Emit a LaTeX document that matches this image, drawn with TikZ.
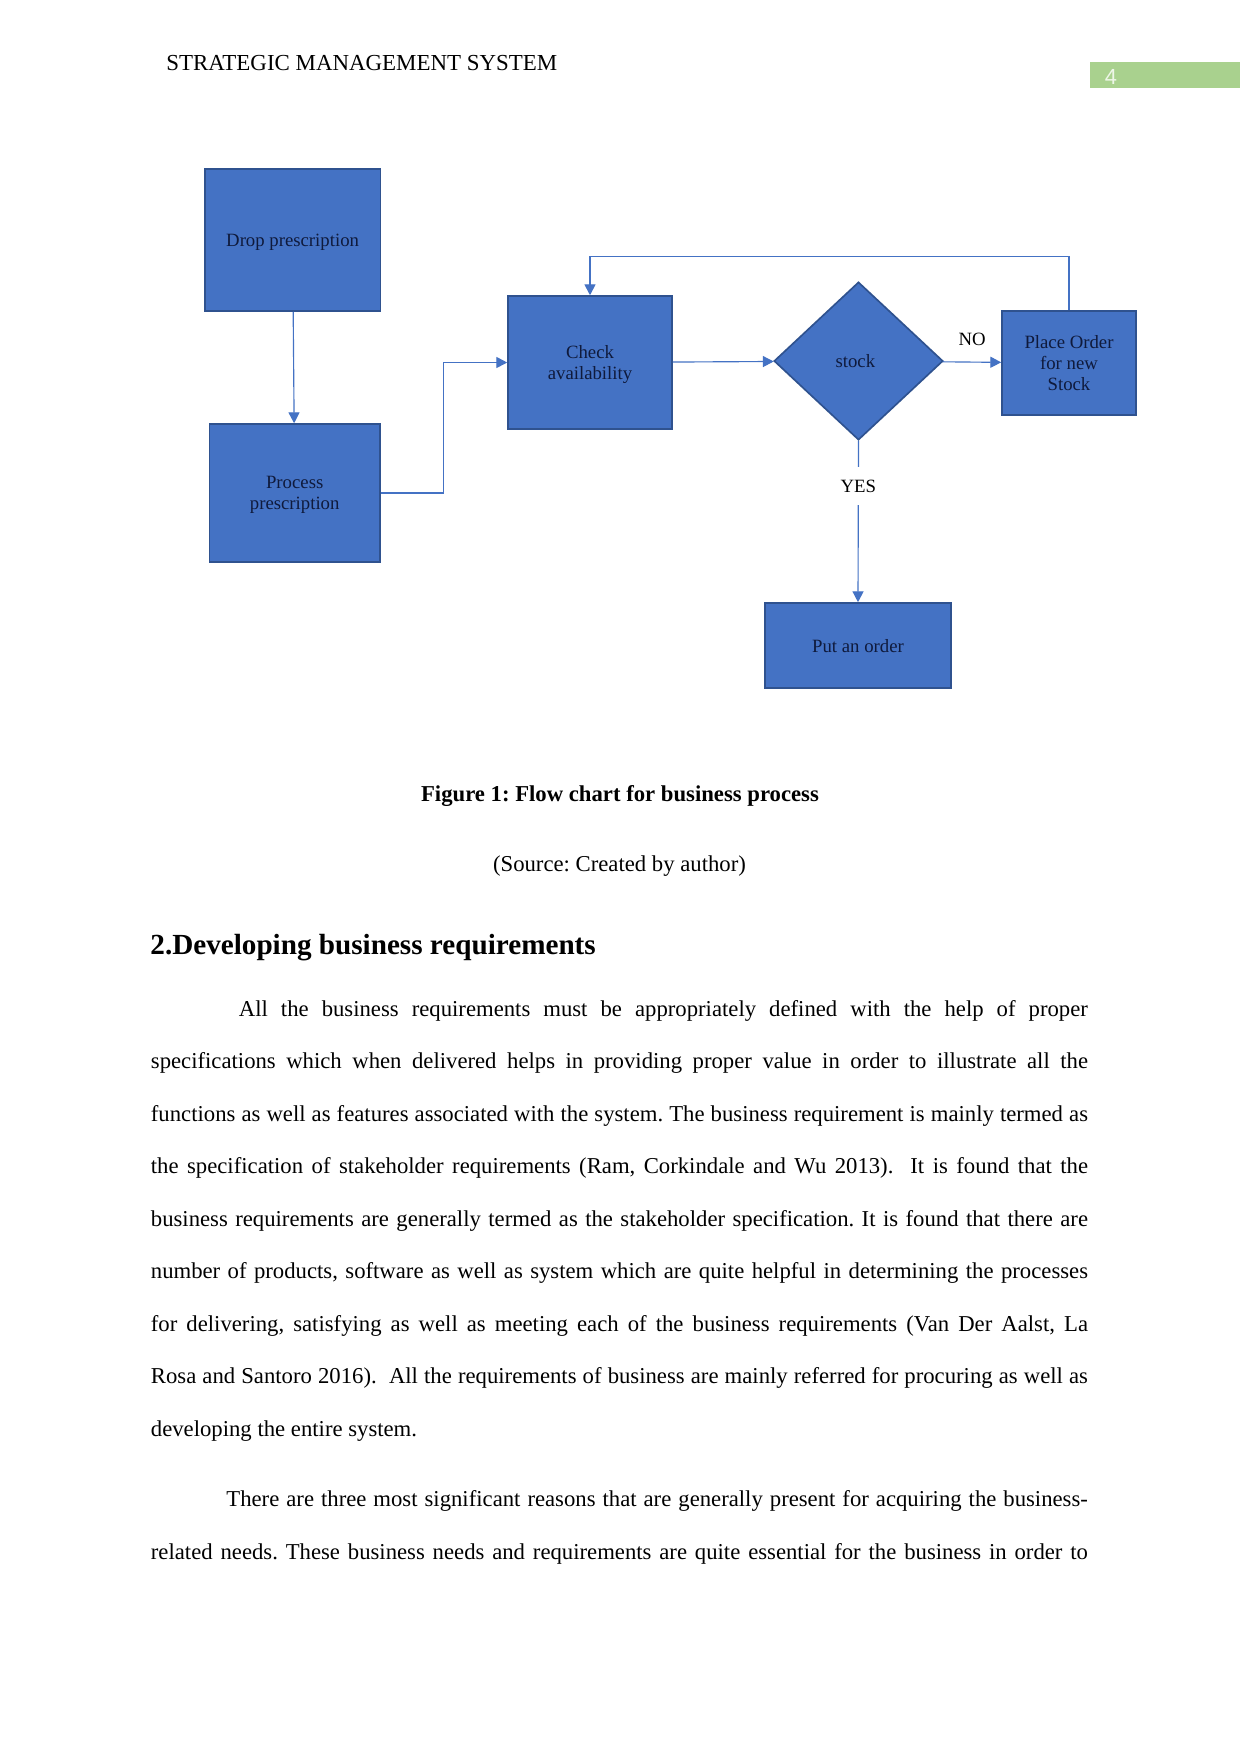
\documentclass[tikz,border=0pt]{standalone}
\usepackage{fontspec}
\setmainfont{Liberation Serif}
\newfontfamily\pgnumfont{Liberation Sans}
\usetikzlibrary{shapes.geometric,arrows.meta,calc}
\definecolor{boxfill}{HTML}{4472C4}
\definecolor{boxline}{HTML}{2F528F}
\definecolor{conn}{HTML}{4472C4}
\definecolor{boxtext}{HTML}{0F1A3C}
\definecolor{pggreen}{HTML}{A9D18E}
\definecolor{pgtext}{HTML}{EEF6E8}
\frenchspacing
\begin{document}
\begin{tikzpicture}[x=0.48pt,y=-0.48pt,
  procbox/.style={rectangle, draw=boxline, line width=0.8pt, fill=boxfill, text=boxtext,
    font=\fontsize{9pt}{10.2pt}\selectfont, align=center, inner sep=0pt, text depth=0pt},
  decbox/.style={diamond, draw=boxline, line width=0.8pt, fill=boxfill, text=boxtext,
    font=\fontsize{9pt}{10.2pt}\selectfont, inner sep=0pt},
  arr/.style={draw=conn, line width=0.55pt, -{Triangle[width=5.3pt,length=5.2pt]}},
  lbl/.style={font=\fontsize{9pt}{10pt}\selectfont, text=black, inner sep=0pt},
  bodyline/.style={anchor=base west, inner sep=0pt, font=\fontsize{10.9pt}{13pt}\selectfont},
  plaintext/.style={inner sep=0pt, font=\fontsize{10.9pt}{13pt}\selectfont}
]
\useasboundingbox[fill=white] (0,0) rectangle (1241,1754);

% header
\node[inner sep=0pt, anchor=base west, font=\fontsize{11pt}{13pt}\selectfont] (hdr) at (166,70.6) {STRATEGIC MANAGEMENT SYSTEM};
\node[fill=pggreen, minimum width=72pt, minimum height=12.2pt, inner sep=0pt] (pgbox) at (1165,75) {};
\node[inner sep=0pt, text=pgtext, font=\pgnumfont\fontsize{10.5pt}{12pt}\selectfont] (pgnum) at (1111,76.5) {4};

% flowchart nodes
\node[procbox, minimum width=84.3pt, minimum height=68.2pt] (drop) at (292.6,240) {Drop prescription};
\node[procbox, minimum width=81.8pt, minimum height=66.2pt] (proc) at (294.7,493) {Process\\prescription};
\node[procbox, minimum width=78.7pt, minimum height=63.8pt] (check) at (590,362.5) {Check\\availability};
\node[decbox, minimum width=81.1pt, minimum height=75.8pt] (stock) at (858.5,361) {stock\hspace*{3pt}};
\node[procbox, minimum width=64.3pt, minimum height=49.9pt] (place) at (1069,363) {Place Order\\for new\\Stock};
\node[procbox, minimum width=89.3pt, minimum height=40.8pt] (put) at (858,645.5) {Put an order};

% connectors
\draw[arr] (drop) -- (proc);
\draw[arr] (proc.east) -- ++(63,0) |- (check.west);
\draw[arr] (check) -- (stock);
\draw[arr] (stock) -- node[lbl, yshift=11pt] {NO} (place);
\draw[arr] (place.north) -- ++(0,-54) -| (check.north);
\draw[arr] (stock.south) -- node[lbl, pos=0.28, fill=white, inner xsep=3pt, inner ysep=6.2pt] {YES} (put.north);

% caption
\node[plaintext, anchor=base, font=\bfseries\fontsize{10.9pt}{13pt}\selectfont] (cap) at (620,801.7) {Figure 1: Flow chart for business process};
\node[plaintext, anchor=base] (src) at (619.5,871) {(Source: Created by author)};

% heading
\node[inner sep=0pt, anchor=base west, font=\bfseries\fontsize{14pt}{16pt}\selectfont] (head) at (150,954.3) {2.Developing business requirements};

% paragraph 1
\node[bodyline] (p1l1) at (238.5,1016) {\makebox[407.5pt][s]{All the business requirements must be appropriately defined with the help of proper}};
\node[bodyline] (p1l2) at (150.5,1068.5) {\makebox[449.8pt][s]{specifications which when delivered helps in providing proper value in order to illustrate all the}};
\node[bodyline] (p1l3) at (150.5,1121) {\makebox[449.8pt][s]{functions as well as features associated with the system. The business requirement is mainly termed as}};
\node[bodyline] (p1l4) at (150.5,1173.5) {\makebox[449.8pt][s]{the specification of stakeholder requirements (Ram, Corkindale and Wu 2013).\ \ It is found that the}};
\node[bodyline] (p1l5) at (150.5,1226) {\makebox[449.8pt][s]{business requirements are generally termed as the stakeholder specification. It is found that there are}};
\node[bodyline] (p1l6) at (150.5,1278.5) {\makebox[449.8pt][s]{number of products, software as well as system which are quite helpful in determining the processes}};
\node[bodyline] (p1l7) at (150.5,1331) {\makebox[449.8pt][s]{for delivering, satisfying as well as meeting each of the business requirements (Van Der Aalst, La}};
\node[bodyline] (p1l8) at (150.5,1383.5) {\makebox[449.8pt][s]{Rosa and Santoro 2016).\ \ All the requirements of business are mainly referred for procuring as well as}};
\node[bodyline] (p1l9) at (150.5,1436) {developing the entire system.};

% paragraph 2
\node[bodyline] (p2l1) at (226,1506.6) {\makebox[413.5pt][s]{There are three most significant reasons that are generally present for acquiring the business-}};
\node[bodyline] (p2l2) at (150.5,1559) {\makebox[449.8pt][s]{related needs. These business needs and requirements are quite essential for the business in order to}};
\end{tikzpicture}
\end{document}
